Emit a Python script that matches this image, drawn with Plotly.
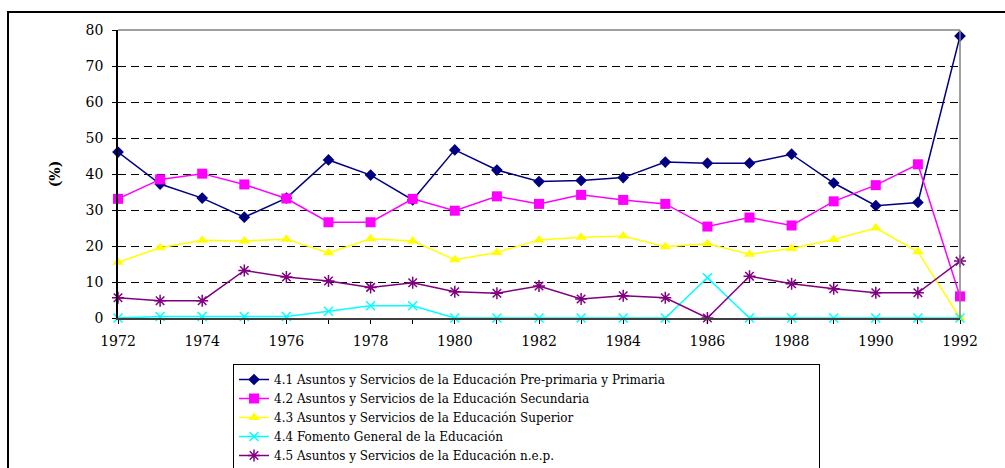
import plotly.graph_objects as go

years = list(range(1972, 1993))
s41 = [46.1, 37.2, 33.3, 28.0, 33.3, 43.9, 39.7, 32.8, 46.7, 41.1, 37.9, 38.2, 39.0, 43.3, 43.0, 43.0, 45.5, 37.5, 31.2, 32.1, 78.3]
s42 = [33.1, 38.5, 40.1, 37.1, 33.2, 26.6, 26.6, 33.1, 29.8, 33.8, 31.7, 34.2, 32.8, 31.7, 25.4, 27.9, 25.7, 32.4, 36.9, 42.7, 6.0]
s43 = [15.5, 19.5, 21.6, 21.4, 21.9, 18.1, 22.0, 21.4, 16.2, 18.2, 21.7, 22.4, 22.8, 19.8, 20.6, 17.7, 19.3, 21.8, 25.0, 18.4, 0.0]
s44 = [0.0, 0.4, 0.4, 0.4, 0.4, 1.9, 3.4, 3.4, 0.0, 0.0, 0.0, 0.0, 0.0, 0.0, 11.2, 0.0, 0.0, 0.0, 0.0, 0.0, 0.0]
s45 = [5.6, 4.8, 4.8, 13.2, 11.4, 10.3, 8.5, 9.8, 7.3, 6.9, 8.9, 5.3, 6.2, 5.6, 0.0, 11.6, 9.5, 8.1, 7.0, 7.0, 15.8]

names = [
    "4.1 Asuntos y Servicios de la Educación Pre-primaria y Primaria",
    "4.2 Asuntos y Servicios de la Educación Secundaria",
    "4.3 Asuntos y Servicios de la Educación Superior",
    "4.4 Fomento General de la Educación",
    "4.5 Asuntos y Servicios de la Educación n.e.p.",
]
y_ticks = list(range(0, 81, 10))
x_ticks = years
x_ticktext = [str(y) if y % 2 == 0 else "" for y in years]

FONT = "DejaVu Serif"

fig = go.Figure()
styles = [
    dict(color="#000080", symbol="diamond", size=9, lw=0),
    dict(color="#FF00FF", symbol="square", size=10, lw=0),
    dict(color="#FFFF00", symbol="triangle-up", size=10, lw=0),
    dict(color="#00FFFF", symbol="x-thin", size=9, lw=1.5),
    dict(color="#800080", symbol="asterisk", size=10, lw=1.5),
]
for name, vals, st in zip(names, [s41, s42, s43, s44, s45], styles):
    fig.add_trace(go.Scatter(
        x=years, y=vals, name=name, mode="lines+markers", cliponaxis=False,
        line=dict(color=st["color"], width=1.5),
        marker=dict(symbol=st["symbol"], size=st["size"], color=st["color"],
                    line=dict(color=st["color"], width=st["lw"])),
    ))

fig.update_layout(
    width=1005, height=468,
    margin=dict(l=118, r=45, t=30, b=150, autoexpand=False),
    paper_bgcolor="white", plot_bgcolor="white",
    font=dict(family=FONT, size=14, color="black"),
    showlegend=True,
    legend=dict(
        orientation="h",
        entrywidth=540, entrywidthmode="pixels",
        x=(233 - 118) / 842, y=(318 - 364) / 288,
        xanchor="left", yanchor="top",
        bordercolor="black", borderwidth=1, bgcolor="white",
        font=dict(family=FONT, size=12, color="black"),
        tracegroupgap=0,
    ),
    xaxis=dict(
        range=[1972, 1992], tickvals=x_ticks, ticktext=x_ticktext,
        ticks="outside", ticklen=4, tickcolor="black", tickwidth=1,
        showline=True, linecolor="#404040", linewidth=1.5,
        showgrid=False, zeroline=False, ticklabelstandoff=5,
        tickfont=dict(family=FONT, size=14),
    ),
    yaxis=dict(
        range=[0, 80], tickvals=y_ticks,
        ticks="outside", ticklen=4, tickcolor="black", tickwidth=1,
        showline=True, linecolor="black", linewidth=1.5,
        showgrid=True, gridcolor="black", gridwidth=1, griddash="8px,5px",
        zeroline=False, ticklabelstandoff=6,
        tickfont=dict(family=FONT, size=14),
        title=dict(text="<b>(%)</b>", font=dict(family=FONT, size=14), standoff=22),
    ),
    xaxis2=dict(
        range=[1972, 1992], tickvals=x_ticks, overlaying="x", side="bottom",
        ticks="inside", ticklen=4, tickcolor="black", showticklabels=False,
        showgrid=False, zeroline=False, showline=False,
    ),
    yaxis2=dict(
        range=[0, 80], tickvals=y_ticks, overlaying="y", side="left",
        ticks="inside", ticklen=4, tickcolor="black", showticklabels=False,
        showgrid=False, zeroline=False, showline=False,
    ),
)

# plot-area top and right border (gray)
fig.add_shape(type="line", xref="paper", yref="paper", x0=0, x1=1, y0=1, y1=1,
              line=dict(color="#808080", width=1.5))
fig.add_shape(type="line", xref="paper", yref="paper", x0=1, x1=1, y0=0, y1=1,
              line=dict(color="#808080", width=1.5))
# outer chart frame
fig.add_shape(type="rect", xref="paper", yref="paper",
              x0=(8 - 118) / 842, x1=1.2, y0=(318 - 480) / 288, y1=(318 - 12) / 288,
              line=dict(color="black", width=2), fillcolor="rgba(0,0,0,0)")

fig.write_html("out.html", config={"displayModeBar": False},
               post_script="document.body.style.margin='0';")
